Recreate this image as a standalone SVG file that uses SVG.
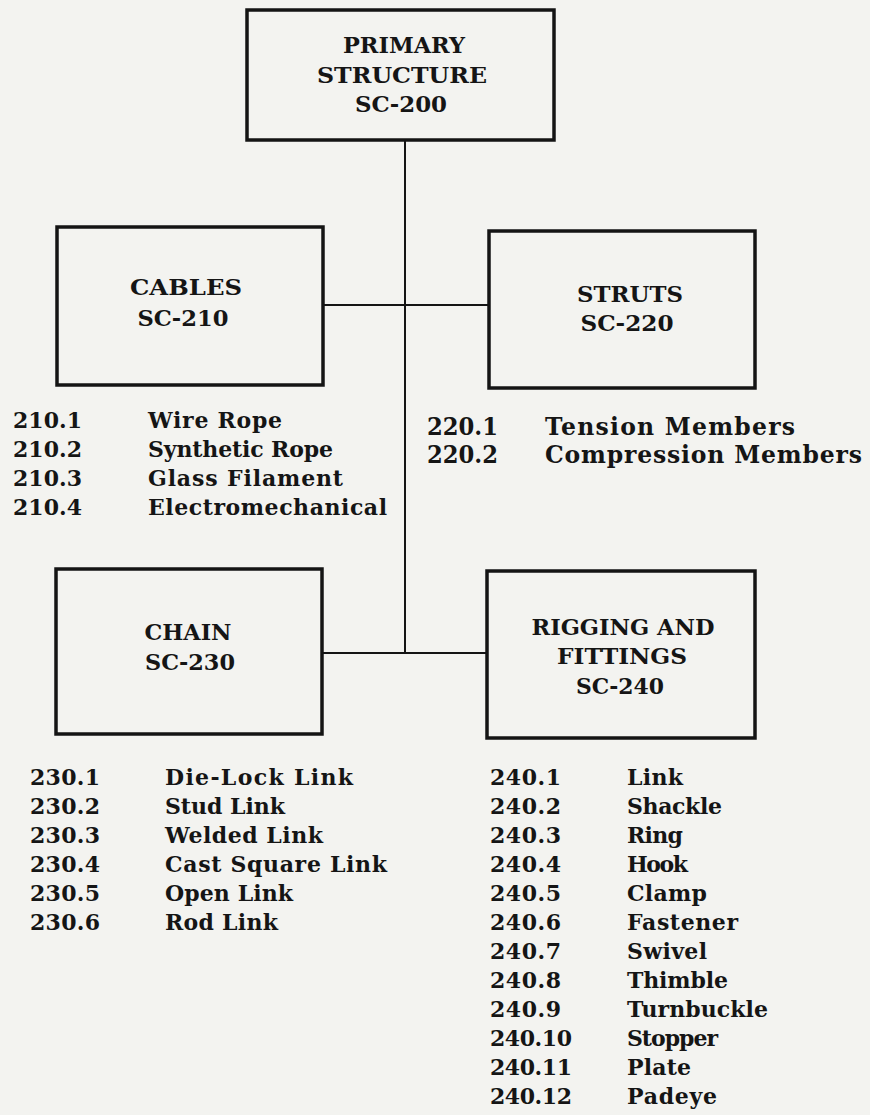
<svg xmlns="http://www.w3.org/2000/svg" width="870" height="1115" viewBox="0 0 870 1115">
<style>
  .bg { fill: #f3f3f0; }
  .box { fill: none; stroke: #141414; stroke-width: 3.5; }
  .conn { fill: none; stroke: #141414; stroke-width: 2; }
  text { font-family: "DejaVu Serif", "Liberation Serif", serif; font-weight: bold; fill: #151515; font-size: 22px; }
  .title { text-anchor: middle; }
  .big { font-size: 23.5px; }
</style>
<rect class="bg" x="0" y="0" width="870" height="1115"/>

<g id="connectors">
  <line class="conn" x1="405" y1="140" x2="405" y2="653"/>
  <line class="conn" x1="323" y1="305" x2="489" y2="305"/>
  <line class="conn" x1="322" y1="653" x2="487" y2="653"/>
</g>

<g id="sc200">
  <rect class="box" x="247" y="10" width="307" height="130"/>
  <text class="title" x="404" y="53" textLength="122" lengthAdjust="spacingAndGlyphs">PRIMARY</text>
  <text class="title" x="402" y="83" textLength="170" lengthAdjust="spacingAndGlyphs">STRUCTURE</text>
  <text class="title" x="401" y="112" textLength="92" lengthAdjust="spacingAndGlyphs">SC-200</text>
</g>

<g id="sc210">
  <rect class="box" x="57" y="227" width="266" height="158"/>
  <text class="title" x="186" y="295" textLength="112" lengthAdjust="spacingAndGlyphs">CABLES</text>
  <text class="title" x="183" y="326" textLength="91" lengthAdjust="spacingAndGlyphs">SC-210</text>
</g>

<g id="sc220">
  <rect class="box" x="489" y="231" width="266" height="157"/>
  <text class="title" x="630" y="302" textLength="106" lengthAdjust="spacingAndGlyphs">STRUTS</text>
  <text class="title" x="627" y="331" textLength="93" lengthAdjust="spacingAndGlyphs">SC-220</text>
</g>

<g id="sc230">
  <rect class="box" x="56" y="569" width="266" height="165"/>
  <text class="title" x="188" y="640" textLength="87" lengthAdjust="spacingAndGlyphs">CHAIN</text>
  <text class="title" x="190" y="670" textLength="90" lengthAdjust="spacingAndGlyphs">SC-230</text>
</g>

<g id="sc240">
  <rect class="box" x="487" y="571" width="268" height="167"/>
  <text class="title" x="623" y="635" textLength="183" lengthAdjust="spacingAndGlyphs">RIGGING AND</text>
  <text class="title" x="622" y="664" textLength="130" lengthAdjust="spacingAndGlyphs">FITTINGS</text>
  <text class="title" x="620" y="694" textLength="88" lengthAdjust="spacingAndGlyphs">SC-240</text>
</g>

<g id="list210">
  <text x="13" y="428" textLength="69">210.1</text><text x="148" y="428" textLength="134">Wire Rope</text>
  <text x="13" y="457" textLength="69">210.2</text><text x="148" y="457" textLength="185">Synthetic Rope</text>
  <text x="13" y="486" textLength="69">210.3</text><text x="148" y="486" textLength="195">Glass Filament</text>
  <text x="13" y="515" textLength="69">210.4</text><text x="148" y="515" textLength="239">Electromechanical</text>
</g>

<g id="list220">
  <text class="big" x="427" y="435" textLength="71" lengthAdjust="spacingAndGlyphs">220.1</text><text class="big" x="545" y="435" textLength="250">Tension Members</text>
  <text class="big" x="427" y="463" textLength="71" lengthAdjust="spacingAndGlyphs">220.2</text><text class="big" x="545" y="463" textLength="317">Compression Members</text>
</g>

<g id="list230">
  <text x="30" y="785" textLength="70">230.1</text><text x="165" y="785" textLength="188">Die-Lock Link</text>
  <text x="30" y="814" textLength="70">230.2</text><text x="165" y="814" textLength="120">Stud Link</text>
  <text x="30" y="843" textLength="70">230.3</text><text x="165" y="843" textLength="158">Welded Link</text>
  <text x="30" y="872" textLength="70">230.4</text><text x="165" y="872" textLength="222">Cast Square Link</text>
  <text x="30" y="901" textLength="70">230.5</text><text x="165" y="901" textLength="128">Open Link</text>
  <text x="30" y="930" textLength="70">230.6</text><text x="165" y="930" textLength="113">Rod Link</text>
</g>

<g id="list240">
  <text x="490" y="785" textLength="71">240.1</text><text x="627" y="785" textLength="56">Link</text>
  <text x="490" y="814" textLength="71">240.2</text><text x="627" y="814" textLength="95">Shackle</text>
  <text x="490" y="843" textLength="71">240.3</text><text x="627" y="843" textLength="56">Ring</text>
  <text x="490" y="872" textLength="71">240.4</text><text x="627" y="872" textLength="61">Hook</text>
  <text x="490" y="901" textLength="71">240.5</text><text x="627" y="901" textLength="80">Clamp</text>
  <text x="490" y="930" textLength="71">240.6</text><text x="627" y="930" textLength="111">Fastener</text>
  <text x="490" y="959" textLength="71">240.7</text><text x="627" y="959" textLength="80">Swivel</text>
  <text x="490" y="988" textLength="71">240.8</text><text x="627" y="988" textLength="101">Thimble</text>
  <text x="490" y="1017" textLength="71">240.9</text><text x="627" y="1017" textLength="141">Turnbuckle</text>
  <text x="490" y="1046" textLength="82">240.10</text><text x="627" y="1046" textLength="91">Stopper</text>
  <text x="490" y="1075" textLength="82">240.11</text><text x="627" y="1075" textLength="64">Plate</text>
  <text x="490" y="1104" textLength="82">240.12</text><text x="627" y="1104" textLength="90">Padeye</text>
</g>
</svg>
